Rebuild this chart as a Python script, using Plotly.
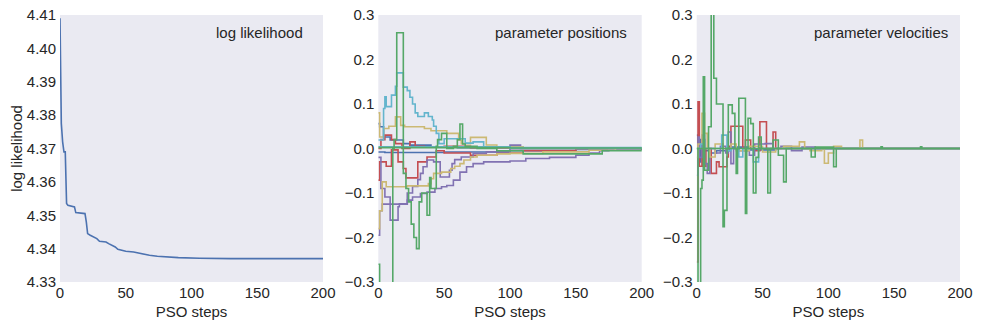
import plotly.graph_objects as go

# ---------------- data ----------------
steps_range = [0, 200]

# panel 1: log likelihood
loglike_x = [0, 1, 2, 3, 4, 5, 6, 8, 11, 12, 19, 20, 21, 23, 25, 28, 30, 35, 37, 40, 42, 44, 47, 50,
             56, 61, 68, 74, 80, 90, 106, 130, 200]
loglike_y = [4.409, 4.3775, 4.372, 4.369, 4.369, 4.3535, 4.353, 4.3528, 4.3525, 4.3508, 4.3505, 4.348,
             4.3445, 4.344, 4.3435, 4.343, 4.3422, 4.342, 4.3415, 4.341, 4.3405, 4.3398, 4.3394, 4.3392,
             4.339, 4.3385, 4.338, 4.3377, 4.3375, 4.3373, 4.3371, 4.337, 4.337]

# panel 2: parameter positions
pos_blue1_x = [0, 1, 4, 9, 19, 24, 40, 60, 100, 200]
pos_blue1_y = [0.056, 0.049, 0.026, 0.019, 0.011, 0.0075, 0.004, 0.002, 0.0, 0.0]
pos_blue2_x = [0, 5, 50, 100, 150, 200]
pos_blue2_y = [-0.008, -0.009, -0.008, -0.005, -0.002, 0.0]
pos_flat_green_x = [0, 100, 200]
pos_flat_green_y = [0.002, 0.001, 0.0]
pos_flat_cyan_x = [0, 100, 200]
pos_flat_cyan_y = [0.004, 0.002, 0.0]
pos_red1_x = [0, 1, 6, 10, 15, 19, 21, 24, 30, 37, 44, 50, 70, 90, 110, 150, 200]
pos_red1_y = [-0.071, -0.03, -0.04, -0.003, -0.03, -0.045, -0.066, -0.066, -0.03, -0.019, -0.005,
              -0.01, -0.015, -0.01, -0.005, 0.0, 0.0]
pos_red2_x = [0, 2, 5, 10, 13, 18, 24, 28, 35, 50, 70, 100, 200]
pos_red2_y = [0.0, 0.02, 0.03, 0.02, 0.011, 0.0, 0.015, 0.005, 0.003, 0.005, 0.002, 0.0, 0.0]
pos_purple1_x = [0, 1, 3, 22, 26, 32, 37, 43, 48, 52, 57, 62, 67, 72, 80, 100, 112, 130, 150, 160,
                 168, 175, 200]
pos_purple1_y = [-0.195, -0.14, -0.125, -0.116, -0.109, -0.101, -0.098, -0.09, -0.086, -0.083, -0.071,
                 -0.053, -0.041, -0.034, -0.03, -0.028, -0.0225, -0.02, -0.015, -0.01, -0.005, -0.001, 0.0]
pos_purple2_x = [0, 2, 5, 9, 15, 16, 22, 26, 30, 32, 34, 37, 42, 47, 54, 56, 58, 63, 72, 82, 100, 108, 200]
pos_purple2_y = [-0.02, -0.09, -0.109, -0.161, -0.131, -0.124, -0.1, -0.085, -0.07, -0.056, -0.041,
                 -0.026, -0.03, -0.064, -0.049, -0.034, -0.025, -0.019, -0.011, -0.0075, 0.0075, 0.0, 0.0]
pos_yellow1_x = [0, 1, 4, 8, 13, 17, 20, 35, 40, 52, 60, 61, 63, 70, 80, 82, 90, 110, 200]
pos_yellow1_y = [0.08, 0.026, 0.045, 0.05, 0.071, 0.052, 0.049, 0.045, 0.04, 0.034, 0.034, 0.019,
                 0.011, 0.025, 0.025, 0.008, 0.004, 0.0, 0.0]
pos_yellow2_x = [0, 1, 3, 6, 22, 38, 40, 42, 48, 55, 58, 62, 65, 70, 75, 90, 100, 125, 160, 180, 200]
pos_yellow2_y = [-0.18, -0.14, -0.075, -0.086, -0.084, -0.079, -0.068, -0.056, -0.053, -0.045, -0.04,
                 -0.034, -0.026, -0.019, -0.015, -0.012, -0.011, -0.0075, -0.004, 0.0, 0.0]
pos_cyan_x = [0, 4, 5, 6, 10, 13, 14, 19, 22, 24, 26, 28, 30, 35, 38, 41, 42, 44, 46, 50, 60, 66, 72,
              80, 100, 200]
pos_cyan_y = [0.019, 0.09, 0.116, 0.094, 0.12, 0.14, 0.17, 0.138, 0.13, 0.115, 0.1, 0.08, 0.072, 0.08,
              0.072, 0.064, 0.05, 0.034, 0.011, 0.022, 0.022, 0.012, 0.015, 0.004, 0.0, 0.0]
pos_green_x = [0, 1, 11, 12, 14, 19, 21, 23, 25, 27, 29, 31, 33, 37, 39, 40, 44, 45, 48, 52, 57, 60,
               62, 64, 66, 75, 90, 110, 140, 170, 200]
pos_green_y = [-0.26, -0.34, 0.0, 0.02, 0.26, -0.056, -0.09, -0.12, -0.17, -0.2, -0.225, -0.12, -0.1,
               -0.15, -0.065, -0.09, 0.005, 0.02, 0.034, 0.0, 0.005, 0.02, 0.055, 0.01, 0.005, 0.0,
               -0.005, -0.012, -0.012, -0.005, 0.0]

# panel 3: parameter velocities
vel_blue_x = [0, 1, 3, 6, 10, 15, 25, 40, 60, 200]
vel_blue_y = [0.03, -0.03, 0.02, -0.005, -0.01, -0.005, 0.003, -0.003, 0.0, 0.0]
vel_red_x = [0, 1, 2, 4, 5, 7, 11, 15, 17, 23, 24, 26, 35, 37, 41, 44, 48, 53, 58, 60, 200]
vel_red_y = [-0.255, 0.105, -0.04, 0.019, -0.04, 0.0, -0.056, -0.03, -0.041, -0.019, 0.005, 0.05, 0.0,
             0.019, 0.0, -0.005, 0.06, 0.0, 0.037, 0.0, 0.0]
vel_purple_x = [0, 1, 2, 4, 6, 8, 10, 14, 18, 22, 24, 26, 28, 32, 40, 44, 52, 58, 64, 72, 80, 90, 100, 200]
vel_purple_y = [-0.06, 0.026, -0.02, 0.03, -0.034, -0.056, 0.0, -0.01, 0.005, -0.01, 0.037, -0.034, 0.0,
                -0.005, -0.015, 0.01, 0.011, 0.0, 0.005, -0.005, 0.003, 0.0, 0.0, 0.0]
vel_yellow_x = [0, 1, 4, 6, 8, 10, 14, 20, 26, 30, 40, 50, 60, 66, 78, 82, 86, 95, 97, 100, 104, 110,
                124, 126, 200]
vel_yellow_y = [-0.02, 0.01, 0.079, 0.034, 0.0, -0.019, 0.01, 0.0, 0.01, -0.005, 0.005, -0.008, 0.0,
                0.005, 0.015, 0.0, -0.005, 0.0, -0.033, -0.01, 0.005, 0.0, 0.019, 0.0, 0.0]
vel_cyan_x = [0, 3, 5, 19, 23, 26, 32, 35, 43, 47, 50, 200]
vel_cyan_y = [0.0, 0.01, 0.0, 0.03, -0.005, 0.0, -0.019, 0.0, -0.03, 0.0, 0.0, 0.0]
vel_flat_x = [0, 200]
vel_flat_y = [0.0, 0.0]
vel_green_x = [0, 1, 3, 4, 5, 6, 9, 11, 13, 15, 20, 21, 23, 24, 27, 29, 30, 31, 32, 37, 38, 39, 41, 43,
               45, 47, 49, 54, 56, 58, 62, 66, 68, 87, 90, 104, 106, 140, 141, 170, 171, 200]
vel_green_y = [0.0, -0.34, -0.09, -0.071, 0.161, -0.049, 0.049, 0.34, 0.158, 0.1, -0.176, -0.139, 0.0,
               0.098, 0.079, 0.0, -0.056, 0.0, 0.113, -0.146, 0.0, 0.068, 0.056, -0.1, -0.02, 0.026,
               0.0, -0.1, 0.0, 0.019, -0.015, -0.075, 0.0, -0.019, 0.003, -0.041, 0.0, 0.004, 0.0,
               0.004, 0.0, 0.0]

ll_ticks = [4.33, 4.34, 4.35, 4.36, 4.37, 4.38, 4.39, 4.40, 4.41]
ll_ticktext = ["4.33", "4.34", "4.35", "4.36", "4.37", "4.38", "4.39", "4.40", "4.41"]
pv_ticks = [-0.3, -0.2, -0.1, 0.0, 0.1, 0.2, 0.3]
pv_ticktext = ["\u22120.3", "\u22120.2", "\u22120.1", "0.0", "0.1", "0.2", "0.3"]
x_ticks = [0, 50, 100, 150, 200]
panel_titles = ["log likelihood", "parameter positions", "parameter velocities"]
x_title = "PSO steps"
y_title = "log likelihood"

# ---------------- style ----------------
C = {"blue": "#4C72B0", "green": "#55A868", "red": "#C44E52",
     "purple": "#8172B2", "yellow": "#CCB974", "cyan": "#64B5CD"}
TXT = "#262626"
FONT = "Liberation Sans, Arial, Helvetica, sans-serif"
FS = 15
LW = 1.6

fig = go.Figure()


def add(x, y, color, xa, ya, shape="hv", width=LW):
    fig.add_trace(go.Scatter(x=x, y=y, mode="lines", xaxis=xa, yaxis=ya, showlegend=False,
                             line=dict(color=color, width=width, shape=shape), hoverinfo="skip"))


add(loglike_x, loglike_y, C["blue"], "x", "y", shape="linear")

pos_series = [
    (pos_blue1_x, pos_blue1_y, "blue"), (pos_blue2_x, pos_blue2_y, "blue"),
    (pos_red1_x, pos_red1_y, "red"), (pos_red2_x, pos_red2_y, "red"),
    (pos_purple1_x, pos_purple1_y, "purple"), (pos_purple2_x, pos_purple2_y, "purple"),
    (pos_yellow1_x, pos_yellow1_y, "yellow"), (pos_yellow2_x, pos_yellow2_y, "yellow"),
    (pos_cyan_x, pos_cyan_y, "cyan"),
    (pos_flat_cyan_x, pos_flat_cyan_y, "cyan"), (pos_flat_green_x, pos_flat_green_y, "green"),
    (pos_green_x, pos_green_y, "green"),
]
for xs, ys, c in pos_series:
    add(xs, ys, C[c], "x2", "y2")

vel_series = [
    (vel_blue_x, vel_blue_y, "blue"), (vel_red_x, vel_red_y, "red"),
    (vel_purple_x, vel_purple_y, "purple"), (vel_yellow_x, vel_yellow_y, "yellow"),
    (vel_cyan_x, vel_cyan_y, "cyan"), (vel_flat_x, vel_flat_y, "green"),
    (vel_green_x, vel_green_y, "green"),
]
for xs, ys, c in vel_series:
    add(xs, ys, C[c], "x3", "y3")

# page body has an 8px margin, so the figure is drawn 8px in from the top-left corner
W, H = 973, 319
ml, mr, mt, mb = 52, 21, 7, 45
pw = W - ml - mr
ph = H - mt - mb
doms = [[0.0, 263.0 / pw], [318.3 / pw, 581.7 / pw], [636.7 / pw, 1.0]]

axis_common = dict(showgrid=False, zeroline=False, showline=False, ticks="", automargin=False,
                   ticklabeloverflow="allow",
                   tickfont=dict(family=FONT, size=FS, color=TXT))

layout = dict(width=W, height=H, margin=dict(l=ml, r=mr, t=mt, b=mb, autoexpand=False),
              template="none",
              paper_bgcolor="white", plot_bgcolor="#EAEAF2",
              font=dict(family=FONT, size=FS, color=TXT))
for i in range(3):
    sfx = "" if i == 0 else str(i + 1)
    layout["xaxis" + sfx] = dict(axis_common, domain=doms[i], range=steps_range, tickvals=x_ticks,
                                 anchor="y" + sfx, ticklabelstandoff=0,
                                 title=dict(text=x_title, standoff=6, font=dict(family=FONT, size=FS, color=TXT)))
    if i == 0:
        layout["yaxis"] = dict(axis_common, range=[4.33, 4.41], tickvals=ll_ticks, ticktext=ll_ticktext,
                               anchor="x", domain=[0, 1], ticklabelstandoff=3,
                               title=dict(text=y_title, standoff=1, font=dict(family=FONT, size=FS, color=TXT)))
    else:
        layout["yaxis" + sfx] = dict(axis_common, range=[-0.3, 0.3], tickvals=pv_ticks, ticktext=pv_ticktext,
                                     anchor="x" + sfx, domain=[0, 1], ticklabelstandoff=3)
fig.update_layout(**layout)

title_right_px = [245, 569, 890]  # measured from the left of the plotting area
for i, t in enumerate(panel_titles):
    fig.add_annotation(text=t, xref="paper", yref="paper", x=title_right_px[i] / pw,
                       y=1 - 18.0 / ph, xanchor="right", yanchor="middle", showarrow=False,
                       font=dict(family=FONT, size=FS, color=TXT))

fig.write_html("out.html")
